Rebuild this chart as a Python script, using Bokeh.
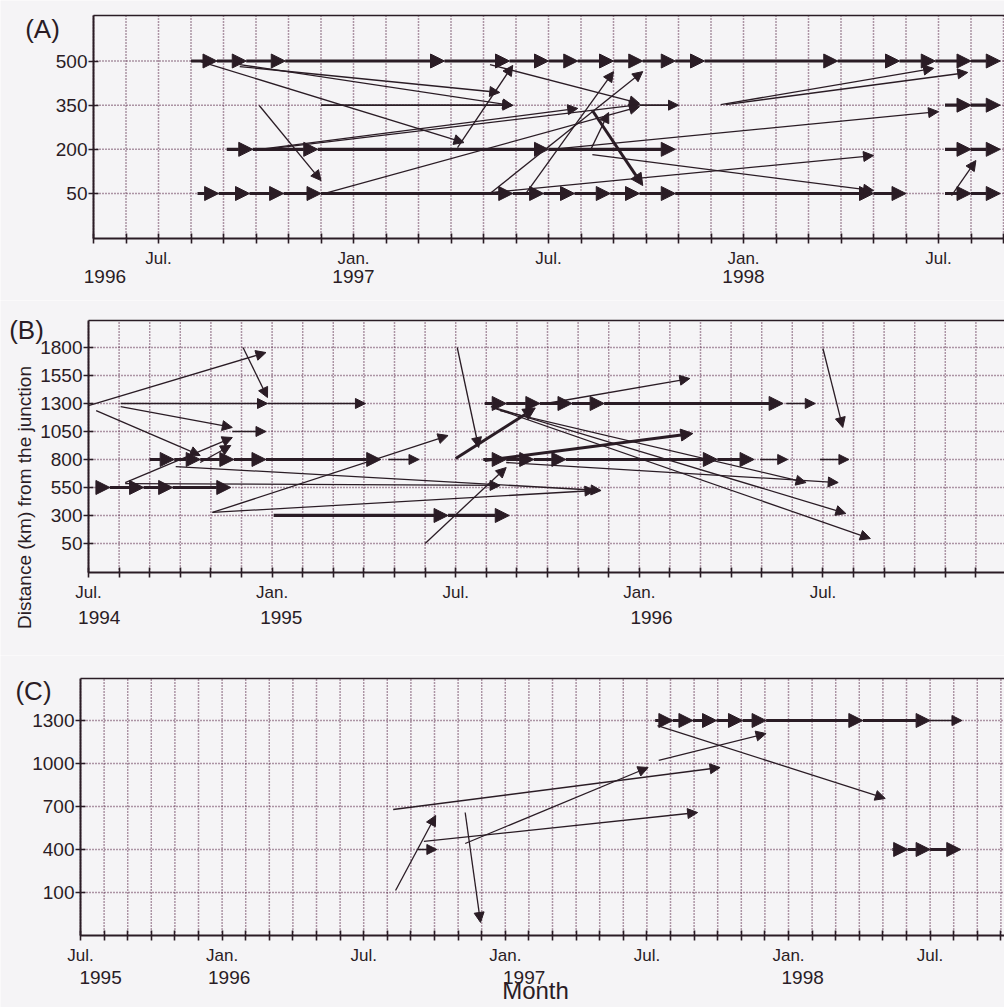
import math
from bokeh.plotting import figure
from bokeh.models import Arrow, NormalHead, ColumnDataSource, FixedTicker, Label, Range1d, LinearAxis
from bokeh.layouts import column
from bokeh.embed import file_html
from bokeh.resources import INLINE

INK = "#2a1c25"
GRID = "#5b2a4a"
BG = "#f5f4f6"
FONT = "Liberation Sans"

# ---------------- Panel A : months counted from Jan 1996, distance in km ----------------
a_month_ticks = list(range(4, 33))
a_month_labels = {6: "Jul.", 12: "Jan.", 18: "Jul.", 24: "Jan.", 30: "Jul."}
a_year_pos = [4.35, 12.0, 24.0]
a_year_text = ["1996", "1997", "1998"]
a_dist_ticks = [50, 200, 350, 500]

a_track_level = [500, 350, 350, 350, 200, 200, 50, 50]
a_track_months = [
    [7.0, 7.8, 8.7, 9.9, 14.8, 16.8, 18.0, 18.9, 20.0, 20.9, 21.9, 22.8, 26.9, 28.8, 29.9, 31.0, 31.9],
    [11.0, 16.9],
    [20.8, 22.0],
    [30.2, 31.0, 31.9],
    [8.1, 8.9, 10.9, 18.0, 21.9],
    [30.2, 31.0, 31.9],
    [7.2, 7.85, 8.8, 9.85, 11.0, 16.9, 17.85, 18.8, 19.9, 20.8, 21.9, 28.0, 29.0],
    [30.2, 31.0, 31.9],
]
a_track_bold = [True, False, False, True, True, True, True, True]

a_move_m0 = [7.3, 8.5, 8.5, 9.1, 9.05, 9.2, 11.2, 15.2, 17.3, 16.2, 16.2, 19.35, 19.3, 19.35, 16.2, 18.0, 23.3, 23.45, 30.4]
a_move_d0 = [498, 488, 481, 349, 199, 199, 53, 206, 50, 50, 488, 332, 199, 182, 53, 199, 352, 352, 43]
a_move_m1 = [15.4, 16.9, 16.5, 11.0, 18.9, 20.8, 20.8, 16.9, 20.0, 20.9, 20.8, 20.9, 19.85, 28.0, 28.0, 30.0, 29.85, 30.9, 31.15]
a_move_d1 = [223, 349, 393, 94, 339, 352, 345, 485, 464, 464, 356, 77, 325, 60, 179, 328, 475, 461, 162]
a_move_bold = [False] * 11 + [True] + [False] * 7

# ---------------- Panel B : months counted from Jan 1994 ----------------
b_month_ticks = list(range(6, 36))
b_month_labels = {6: "Jul.", 12: "Jan.", 18: "Jul.", 24: "Jan.", 30: "Jul."}
b_year_pos = [6.35, 12.3, 24.4]
b_year_text = ["1994", "1995", "1996"]
b_dist_ticks = [50, 300, 550, 800, 1050, 1300, 1550, 1800]

b_track_level = [1300, 1050, 800, 800, 550, 300, 1300, 1300, 800, 800, 800]
b_track_months = [
    [7.05, 11.85, 15.05],
    [10.7, 11.8],
    [8.0, 8.8, 9.65, 10.75, 11.8, 15.55],
    [15.8, 16.8],
    [6.4, 6.7, 7.8, 8.75, 10.65],
    [12.05, 17.75, 19.75],
    [18.95, 19.65, 20.75, 21.8, 22.85, 28.7],
    [28.8, 29.75],
    [18.9, 19.65, 20.55, 21.6, 26.55, 27.75],
    [27.95, 28.85],
    [29.9, 30.85],
]
b_track_bold = [False, False, True, False, True, True, True, False, True, False, False]

b_move_m0 = [6.0, 11.05, 7.05, 6.25, 7.2, 9.65, 7.2, 8.85, 10.05, 10.05, 17.0, 18.05, 18.0, 20.95, 30.0, 19.15, 19.3, 19.45, 18.95, 19.65]
b_move_d0 = [1282, 1800, 1273, 1237, 594, 773, 585, 737, 327, 327, 50, 1800, 809, 1300, 1791, 1273, 1255, 1237, 791, 773]
b_move_m1 = [11.8, 11.85, 10.7, 9.65, 10.7, 10.65, 19.45, 22.75, 17.75, 22.55, 19.65, 18.75, 20.6, 25.65, 30.65, 30.75, 31.55, 29.45, 25.75, 30.5]
b_move_d1 = [1755, 1353, 1086, 836, 996, 925, 568, 523, 1014, 523, 728, 907, 1260, 1523, 1086, 318, 94, 594, 1032, 594]
b_move_bold = [False] * 12 + [True] + [False] * 5 + [True, False]

# ---------------- Panel C : months counted from Jan 1995 ----------------
c_month_ticks = list(range(6, 46))
c_month_labels = {6: "Jul.", 12: "Jan.", 18: "Jul.", 24: "Jan.", 30: "Jul.", 36: "Jan.", 42: "Jul."}
c_year_pos = [6.85, 12.3, 24.8, 36.6]
c_year_text = ["1995", "1996", "1997", "1998"]
c_dist_ticks = [100, 400, 700, 1000, 1300]

c_track_level = [1300, 1300, 400, 400]
c_track_months = [
    [30.35, 31.1, 31.95, 32.95, 34.05, 35.05, 39.15, 42.0],
    [42.0, 43.35],
    [40.4, 41.05, 42.0, 43.3],
    [20.3, 21.1],
]
c_track_bold = [True, False, True, False]

c_move_m0 = [19.35, 19.25, 20.55, 22.3, 22.3, 30.5, 30.45]
c_move_d0 = [114, 679, 456, 658, 442, 1021, 1265]
c_move_m1 = [21.05, 33.1, 32.15, 22.95, 30.05, 35.05, 40.1]
c_move_d1 = [637, 972, 658, -109, 972, 1209, 756]
c_move_bold = [False] * 7


class Calib:
    """Screen calibration of one panel (pixel layout only, no data)."""
    def __init__(self, fig_top, height, left_px, m_left, px_per_month, ref_val, ref_px, val_per_px,
                 axis_px, top_px):
        self.fig_top, self.height = fig_top, height
        self.left_px, self.m_left, self.ppm = left_px, m_left, px_per_month
        self.ref_val, self.ref_px, self.vpp = ref_val, ref_px, val_per_px
        self.axis_px, self.top_px = axis_px, top_px

    def mx(self, X):
        return self.m_left + (X - self.left_px) / self.ppm

    def vy(self, Y):
        return self.ref_val - (Y - self.ref_px) * self.vpp


def make_panel(c, xticks, xlabels, yticks):
    x0, x1 = c.mx(0), c.mx(1004)
    y0, y1 = c.vy(c.fig_top + c.height), c.vy(c.fig_top)
    bottom, top, left = c.vy(c.axis_px), c.vy(c.top_px), c.m_left
    p = figure(width=1004, height=c.height, x_range=Range1d(x0, x1), y_range=Range1d(y0, y1),
               output_backend="svg", toolbar_location=None, min_border=0,
               background_fill_color=BG, border_fill_color=BG, outline_line_color=None)
    p.grid.visible = False
    # dotted grid at every month and every distance tick
    p.segment(x0=xticks, y0=[bottom] * len(xticks), x1=xticks, y1=[top] * len(xticks),
              line_color=GRID, line_dash="1 2", line_width=1.5, line_alpha=0.95)
    p.segment(x0=[left] * len(yticks), y0=yticks, x1=[x1] * len(yticks), y1=yticks,
              line_color=GRID, line_dash="1 2", line_width=1.5, line_alpha=0.95)

    xa = p.xaxis[0]
    ya = p.yaxis[0]
    xa.fixed_location = bottom
    xa.bounds = (left, x1)
    ya.fixed_location = left
    ya.bounds = (bottom, top)
    for ax in (xa, ya):
        ax.axis_line_color = INK
        ax.axis_line_width = 2
        ax.major_tick_line_color = INK
        ax.major_tick_line_width = 1.6
        ax.major_tick_in = 5
        ax.major_tick_out = 5
        ax.minor_tick_line_color = None
        ax.major_label_text_font = FONT
        ax.major_label_text_color = INK
    xa.ticker = FixedTicker(ticks=xticks)
    xa.major_label_overrides = {t: xlabels.get(t, "") for t in xticks}
    xa.major_label_text_font_size = "17px"
    xa.major_label_standoff = 5
    ya.ticker = FixedTicker(ticks=yticks)
    ya.major_label_text_font_size = "19px"
    ya.major_label_standoff = 1

    top_axis = LinearAxis(fixed_location=top, bounds=(left, x1), ticker=FixedTicker(ticks=[]),
                          axis_line_color=INK, axis_line_width=1.6, major_tick_line_color=None,
                          minor_tick_line_color=None, major_label_text_font_size="0px")
    p.add_layout(top_axis, "above")
    return p


def add_arrows(p, x0, y0, x1, y1, width, head):
    if not x0:
        return
    src = ColumnDataSource(dict(x0=x0, y0=y0, x1=x1, y1=y1))
    p.add_layout(Arrow(source=src, x_start="x0", y_start="y0", x_end="x1", y_end="y1",
                       line_color=INK, line_width=width,
                       end=NormalHead(size=head, fill_color=INK, line_color=INK, line_width=1)))


def draw_tracks(p, levels, months, bold):
    for lvl, ms, b in zip(levels, months, bold):
        x0 = ms[:-1]
        x1 = ms[1:]
        add_arrows(p, x0, [lvl] * len(x0), x1, [lvl] * len(x1), 3.2 if b else 1.6, 14 if b else 10)


def draw_moves(p, m0, d0, m1, d1, bold):
    thin = [i for i, b in enumerate(bold) if not b]
    thick = [i for i, b in enumerate(bold) if b]
    add_arrows(p, [m0[i] for i in thin], [d0[i] for i in thin], [m1[i] for i in thin],
               [d1[i] for i in thin], 1.3, 10)
    add_arrows(p, [m0[i] for i in thick], [d0[i] for i in thick], [m1[i] for i in thick],
               [d1[i] for i in thick], 3.0, 12)


def txt(p, x, y, s, size, angle=0.0):
    p.add_layout(Label(x=x, y=y, text=s, text_font=FONT, text_font_size=size, text_color=INK,
                       text_align="center", text_baseline="middle", angle=angle))


# ---------- Panel A ----------
cA = Calib(0, 300, 93, 4, 32.5, 500, 60.5, 3.396, 238, 15)
pA = make_panel(cA, a_month_ticks, a_month_labels, a_dist_ticks)
draw_tracks(pA, a_track_level, a_track_months, a_track_bold)
draw_moves(pA, a_move_m0, a_move_d0, a_move_m1, a_move_d1, a_move_bold)
for xp, s in zip(a_year_pos, a_year_text):
    txt(pA, xp, cA.vy(276), s, "19px")
txt(pA, cA.mx(42), cA.vy(28), "(A)", "26px")

# ---------- Panel B ----------
cB = Calib(300, 355, 88, 6, 30.6, 1800, 347, 8.93, 572, 320)
pB = make_panel(cB, b_month_ticks, b_month_labels, b_dist_ticks)
draw_tracks(pB, b_track_level, b_track_months, b_track_bold)
draw_moves(pB, b_move_m0, b_move_d0, b_move_m1, b_move_d1, b_move_bold)
for xp, s in zip(b_year_pos, b_year_text):
    txt(pB, xp, cB.vy(617), s, "19px")
txt(pB, cB.mx(26), cB.vy(329), "(B)", "26px")
txt(pB, cB.mx(24), cB.vy(497), "Distance (km) from the junction", "19px", angle=math.pi / 2)

# ---------- Panel C ----------
cC = Calib(655, 352, 80, 6, 23.6, 1300, 720, 6.977, 935, 678)
pC = make_panel(cC, c_month_ticks, c_month_labels, c_dist_ticks)
draw_tracks(pC, c_track_level, c_track_months, c_track_bold)
draw_moves(pC, c_move_m0, c_move_d0, c_move_m1, c_move_d1, c_move_bold)
for xp, s in zip(c_year_pos, c_year_text):
    txt(pC, xp, cC.vy(977), s, "19px")
txt(pC, cC.mx(535), cC.vy(990), "Month", "24px")
txt(pC, cC.mx(33), cC.vy(690), "(C)", "26px")

layout = column(pA, pB, pC, spacing=0)
open("out.html", "w").write(file_html(layout, INLINE))
